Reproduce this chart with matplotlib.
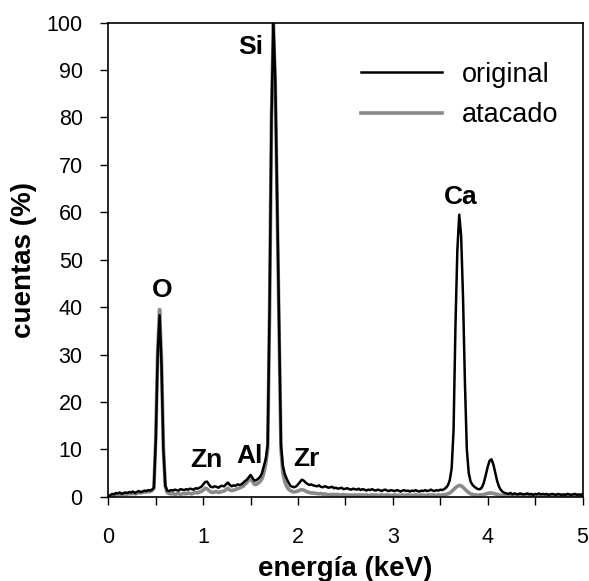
import numpy as np
import matplotlib
matplotlib.use('Agg')
import matplotlib.pyplot as plt

plt.rcParams['font.family'] = ['Liberation Sans', 'DejaVu Sans']

# spectrum channels, 0.02 keV apart
energia = np.linspace(0, 5, 251)

# spectrum of the original sample (%)
original = [
    0.1, 0.3, 0.6, 0.5, 0.8, 0.7, 0.9, 0.6, 0.8, 0.9,
    0.8, 1.0, 0.9, 1.1, 0.8, 1.0, 1.2, 1.0, 1.1, 1.3,
    1.2, 1.4, 1.3, 1.5, 1.9, 12.0, 30.0, 38.3, 28.0, 10.0,
    2.4, 1.3, 1.2, 1.4, 1.3, 1.5, 1.4, 1.3, 1.6, 1.5,
    1.4, 1.6, 1.5, 1.7, 1.6, 1.5, 1.8, 1.7, 1.9, 2.1,
    2.6, 3.1, 3.2, 2.6, 2.1, 2.0, 2.2, 2.1, 1.9, 2.2,
    2.3, 2.2, 2.6, 3.0, 2.5, 2.2, 2.4, 2.3, 2.6, 2.5,
    2.6, 2.9, 3.3, 3.6, 4.1, 4.6, 4.0, 3.4, 3.5, 3.8,
    4.2, 5.0, 6.5, 8.0, 11.0, 40.0, 80.0, 100.0, 88.0, 62.0,
    35.0, 11.0, 6.5, 4.8, 3.8, 3.0, 2.3, 2.1, 2.0, 2.2,
    2.6, 3.1, 3.6, 3.4, 3.0, 2.7, 2.5, 2.6, 2.4, 2.3,
    2.2, 2.4, 2.1, 2.0, 2.2, 2.1, 1.9, 2.0, 2.1, 1.8,
    1.9, 1.7, 1.8, 1.9, 1.6, 1.7, 1.8, 1.6, 1.5, 1.7,
    1.6, 1.5, 1.7, 1.4, 1.6, 1.5, 1.3, 1.5, 1.4, 1.6,
    1.4, 1.3, 1.5, 1.4, 1.2, 1.4, 1.5, 1.3, 1.2, 1.4,
    1.3, 1.2, 1.4, 1.3, 1.1, 1.3, 1.4, 1.2, 1.3, 1.1,
    1.3, 1.2, 1.4, 1.2, 1.1, 1.3, 1.2, 1.4, 1.2, 1.3,
    1.5, 1.3, 1.2, 1.4, 1.3, 1.5, 1.4, 1.6, 1.9, 2.4,
    3.5, 6.0, 14.0, 36.0, 52.0, 59.5, 55.0, 42.0, 24.0, 10.0,
    5.0, 3.2, 2.5, 2.1, 1.8, 1.6, 1.6, 2.0, 3.0, 4.6,
    6.3, 7.6, 7.9, 6.8, 5.0, 3.3, 2.1, 1.4, 1.0, 0.8,
    0.7, 0.6, 0.8, 0.5, 0.7, 0.6, 0.5, 0.7, 0.6, 0.5,
    0.6, 0.7, 0.5, 0.6, 0.4, 0.6, 0.5, 0.7, 0.5, 0.6,
    0.5, 0.6, 0.4, 0.5, 0.6, 0.5, 0.4, 0.6, 0.5, 0.4,
    0.5, 0.4, 0.6, 0.5, 0.4, 0.5, 0.6, 0.4, 0.5, 0.4,
    0.5,
]

# spectrum after etching (%)
atacado = [
    0.1, 0.2, 0.4, 0.3, 0.5, 0.4, 0.6, 0.4, 0.5, 0.6,
    0.5, 0.7, 0.6, 0.8, 0.6, 0.7, 0.9, 0.8, 0.9, 1.0,
    1.0, 1.1, 1.1, 1.3, 1.8, 12.5, 31.0, 39.5, 29.0, 10.5,
    2.2, 0.9, 0.7, 0.6, 0.7, 0.5, 0.6, 0.7, 0.5, 0.6,
    0.7, 0.6, 0.8, 0.7, 0.6, 0.8, 0.9, 0.8, 1.0, 1.1,
    1.4, 1.8, 1.7, 1.3, 1.0, 0.9, 1.0, 1.1, 0.9, 1.0,
    1.1, 1.2, 1.5, 1.8, 1.4, 1.3, 1.4, 1.5, 1.7, 1.8,
    2.0, 2.2, 2.6, 3.0, 3.5, 3.8, 3.2, 2.6, 2.6, 2.9,
    3.2, 3.8, 5.0, 7.0, 10.0, 39.0, 80.0, 100.0, 87.0, 61.0,
    34.0, 10.0, 5.0, 3.2, 2.2, 1.6, 1.3, 1.1, 1.0, 1.1,
    1.2, 1.4, 1.5, 1.4, 1.2, 1.0, 0.9, 0.8, 0.8, 0.7,
    0.7, 0.6, 0.7, 0.5, 0.6, 0.5, 0.4, 0.5, 0.4, 0.5,
    0.4, 0.5, 0.3, 0.4, 0.5, 0.3, 0.4, 0.3, 0.4, 0.3,
    0.4, 0.3, 0.4, 0.3, 0.4, 0.3, 0.4, 0.3, 0.3, 0.4,
    0.3, 0.4, 0.3, 0.3, 0.4, 0.3, 0.3, 0.4, 0.3, 0.3,
    0.3, 0.4, 0.3, 0.3, 0.3, 0.4, 0.3, 0.3, 0.4, 0.3,
    0.3, 0.3, 0.4, 0.3, 0.3, 0.4, 0.3, 0.3, 0.3, 0.4,
    0.3, 0.4, 0.3, 0.3, 0.4, 0.3, 0.4, 0.4, 0.5, 0.6,
    0.8, 1.1, 1.5, 1.9, 2.2, 2.4, 2.3, 2.0, 1.6, 1.2,
    0.9, 0.6, 0.5, 0.4, 0.4, 0.3, 0.4, 0.4, 0.5, 0.6,
    0.7, 0.8, 0.8, 0.7, 0.6, 0.5, 0.4, 0.3, 0.3, 0.3,
    0.3, 0.2, 0.3, 0.3, 0.2, 0.3, 0.3, 0.2, 0.3, 0.3,
    0.2, 0.3, 0.3, 0.2, 0.3, 0.2, 0.3, 0.3, 0.2, 0.3,
    0.3, 0.2, 0.3, 0.2, 0.3, 0.3, 0.2, 0.3, 0.2, 0.3,
    0.2, 0.3, 0.3, 0.2, 0.3, 0.2, 0.3, 0.3, 0.2, 0.3,
    0.3,
]

# element labels and where they sit
elementos = ['O', 'Si', 'Zn', 'Al', 'Zr', 'Ca']
elem_x = [0.57, 1.50, 1.03, 1.49, 2.09, 3.71]
elem_y = [43.6, 94.8, 7.7, 8.7, 8.0, 63.3]

fig = plt.figure(figsize=(5.89, 5.81), dpi=100)
ax = fig.add_axes([0.184, 0.145, 0.805, 0.816])

l_at, = ax.plot(energia, atacado, color='#8a8a8a', lw=2.6, zorder=2)
l_or, = ax.plot(energia, original, color='black', lw=1.8, zorder=3)

for name, x, y in zip(elementos, elem_x, elem_y):
    ax.text(x, y, name, ha='center', va='center', fontsize=19,
            fontweight='bold')

ax.set_xlim(0, 5)
ax.set_ylim(0, 100)
ax.set_xticks(np.arange(0, 6, 1))
ax.set_xticks(np.arange(0, 5.01, 0.5), minor=True)
ax.set_yticks(np.arange(0, 101, 10))
ax.tick_params(axis='both', which='both', direction='out', length=5.5,
               width=1, labelsize=15.5)
ax.tick_params(axis='y', pad=13)
ax.tick_params(axis='x', pad=16)
for s in ax.spines.values():
    s.set_linewidth(1.2)

ax.set_xlabel('energía (keV)', fontsize=20, fontweight='bold', labelpad=6)
ax.set_ylabel('cuentas (%)', fontsize=20, fontweight='bold', labelpad=7)

ax.legend([l_or, l_at], ['original', 'atacado'], loc='upper left',
          bbox_to_anchor=(0.532, 0.918), frameon=False, fontsize=19.5,
          handlelength=3.0, handletextpad=0.75, labelspacing=0.55,
          borderpad=0, borderaxespad=0)

fig.savefig('out.png', dpi=100)
